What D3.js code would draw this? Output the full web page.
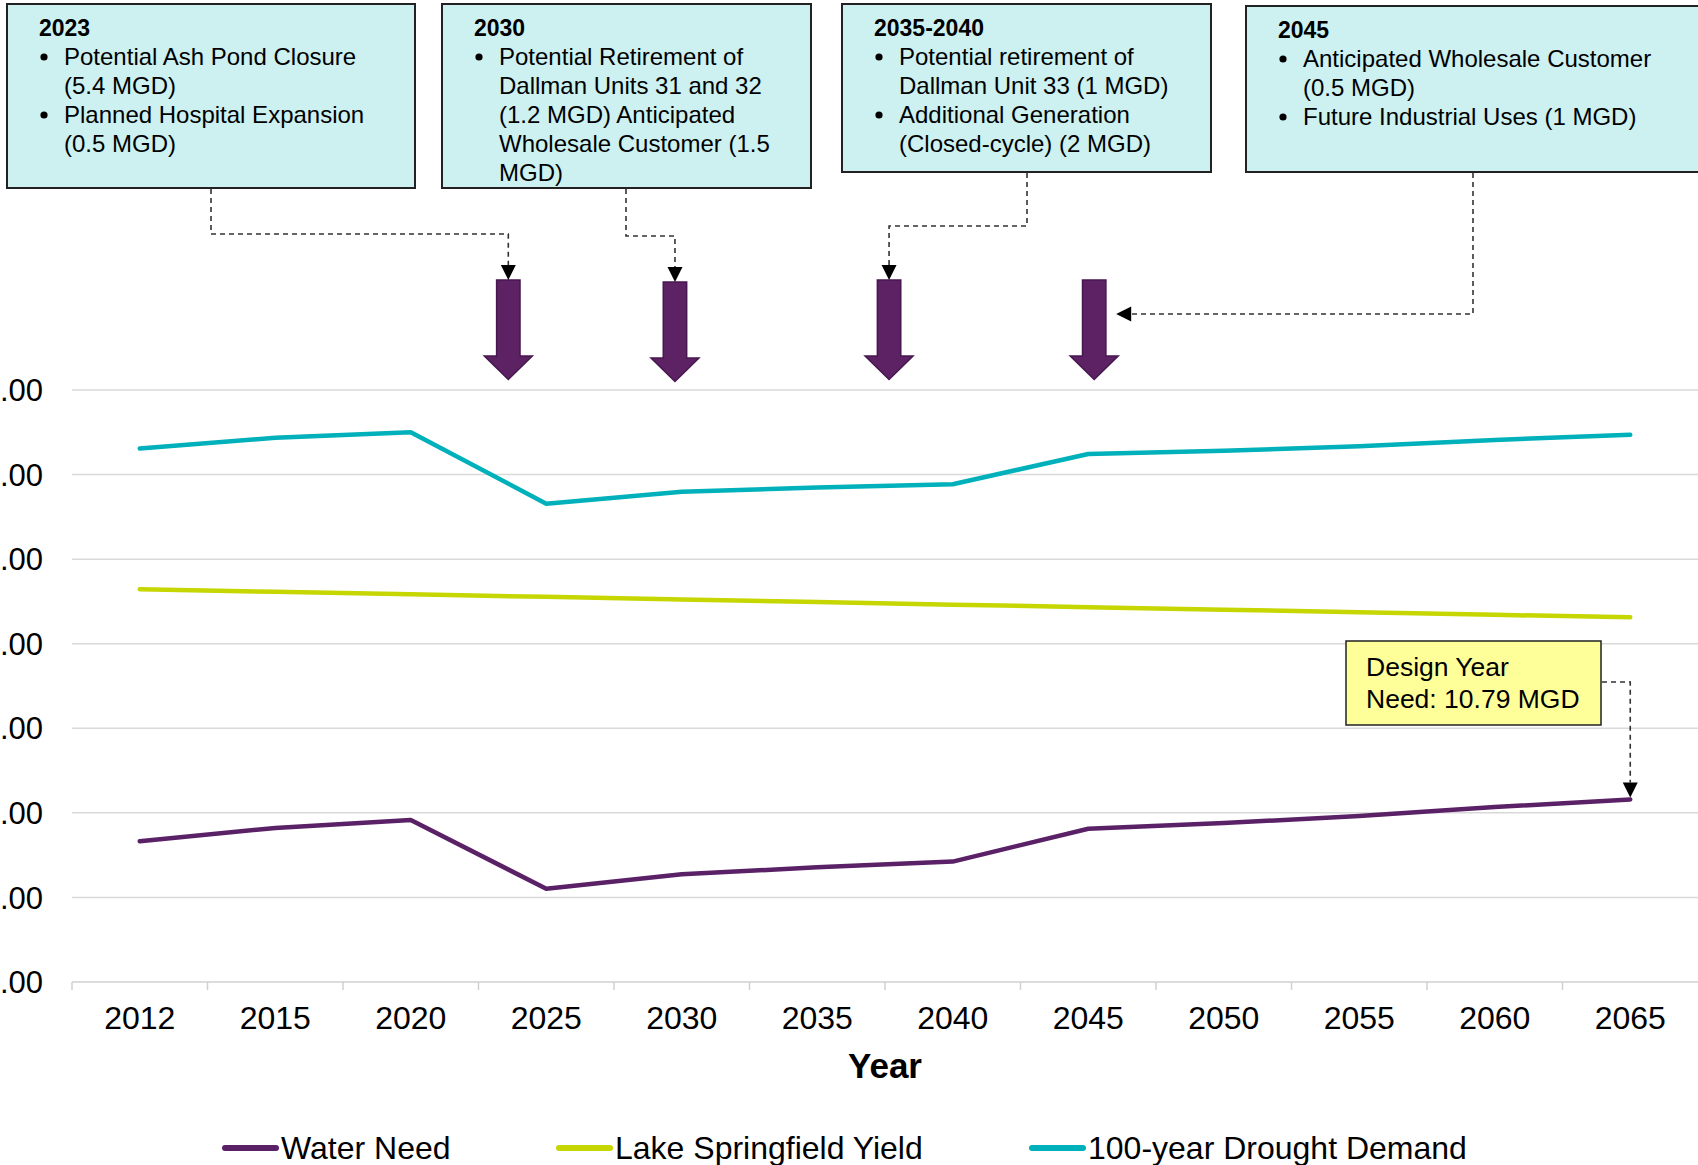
<!DOCTYPE html>
<html>
<head>
<meta charset="utf-8">
<script src="https://cdn.jsdelivr.net/npm/d3@7"></script>
<style>
  html, body { margin: 0; padding: 0; background: #fff; overflow: hidden; }
  svg { display: block; font-family: "Liberation Sans", Arial, Helvetica, sans-serif; }
</style>
</head>
<body>
<svg id="chart" width="1698" height="1165"></svg>
<script>
// ---------- data ----------
const years = ['2012','2015','2020','2025','2030','2035','2040','2045','2050','2055','2060','2065'];
const waterNeed     = [8.32, 9.11, 9.58, 5.51, 6.37, 6.78, 7.12, 9.06, 9.40, 9.81, 10.34, 10.79];
const lakeYield     = [23.22, 23.07, 22.92, 22.77, 22.61, 22.46, 22.31, 22.16, 22.01, 21.86, 21.71, 21.56];
const droughtDemand = [31.54, 32.18, 32.50, 28.28, 28.98, 29.24, 29.43, 31.22, 31.41, 31.67, 32.05, 32.35];
const yTicks = [0, 5, 10, 15, 20, 25, 30, 35];
const seriesNames = ['Water Need', 'Lake Springfield Yield', '100-year Drought Demand'];

const eventYears = [2023.6, 2029.75, 2037.65, 2045.22];
const eventTitles = ['2023', '2030', '2035-2040', '2045'];
const eventItems = [
  [['Potential Ash Pond Closure', '(5.4 MGD)'], ['Planned Hospital Expansion', '(0.5 MGD)']],
  [['Potential Retirement of', 'Dallman Units 31 and 32', '(1.2 MGD) Anticipated', 'Wholesale Customer (1.5', 'MGD)']],
  [['Potential retirement of', 'Dallman Unit 33 (1 MGD)'], ['Additional Generation', '(Closed-cycle) (2 MGD)']],
  [['Anticipated Wholesale Customer', '(0.5 MGD)'], ['Future Industrial Uses (1 MGD)']]
];
const designLabel = ['Design Year', 'Need: 10.79 MGD'];

// ---------- styles ----------
const colors = ['#5b2167', '#c5d600', '#00b0ba'];
const boxFill = '#cdf0f1';

const svg = d3.select('#chart');
const plot = { left: 72, right: 1698, top: 390, bottom: 982 };

const x = d3.scaleBand().domain(years).range([plot.left, plot.right]).paddingInner(0).paddingOuter(0);
const y = d3.scaleLinear().domain([0, 35]).range([plot.bottom, plot.top]);
const cx = d => x(d) + x.bandwidth() / 2;

// fractional year -> x (between category centres)
const yearNums = years.map(Number);
function yearX(v) {
  for (let i = 0; i < yearNums.length - 1; i++) {
    if (v >= yearNums[i] && v <= yearNums[i + 1]) {
      const t = (v - yearNums[i]) / (yearNums[i + 1] - yearNums[i]);
      return cx(years[i]) + t * (cx(years[i + 1]) - cx(years[i]));
    }
  }
  return cx(years[years.length - 1]);
}

// ---------- gridlines ----------
svg.append('g').selectAll('line').data(yTicks.filter(d => d > 0)).join('line')
  .attr('x1', plot.left).attr('x2', plot.right)
  .attr('y1', d => y(d)).attr('y2', d => y(d))
  .attr('stroke', '#d9d9d9').attr('stroke-width', 1.5);

// y labels (clipped at the left edge as in the reference)
svg.append('g').selectAll('text').data(yTicks).join('text')
  .attr('x', 43).attr('y', d => y(d)).attr('dy', '0.36em')
  .attr('text-anchor', 'end').attr('font-size', 31).attr('fill', '#000')
  .text(d => d.toFixed(2));

// x axis
const xAxis = svg.append('g');
xAxis.append('line').attr('x1', plot.left).attr('x2', plot.right)
  .attr('y1', plot.bottom).attr('y2', plot.bottom)
  .attr('stroke', '#d0d0d0').attr('stroke-width', 1.5);
xAxis.selectAll('line.tick').data(years).join('line').attr('class', 'tick')
  .attr('x1', d => x(d)).attr('x2', d => x(d))
  .attr('y1', plot.bottom).attr('y2', plot.bottom + 8)
  .attr('stroke', '#d0d0d0').attr('stroke-width', 1.5);
xAxis.selectAll('text').data(years).join('text')
  .attr('x', d => cx(d)).attr('y', 1029)
  .attr('text-anchor', 'middle').attr('font-size', 32).attr('fill', '#000')
  .text(d => d);
svg.append('text').attr('x', (plot.left + plot.right) / 2).attr('y', 1078)
  .attr('text-anchor', 'middle').attr('font-size', 35).attr('font-weight', 'bold')
  .text('Year');

// ---------- lines ----------
const series = [waterNeed, lakeYield, droughtDemand];
const line = d3.line().x((d, i) => cx(years[i])).y(d => y(d));
svg.append('g').selectAll('path').data(series).join('path')
  .attr('d', d => line(d))
  .attr('fill', 'none')
  .attr('stroke', (d, i) => colors[i])
  .attr('stroke-width', 4.5)
  .attr('stroke-linecap', 'round')
  .attr('stroke-linejoin', 'round');

// ---------- legend ----------
const legendX = [223, 557, 1030];
const lg = svg.append('g').selectAll('g').data(seriesNames).join('g')
  .attr('transform', (d, i) => `translate(${legendX[i]},1148)`);
lg.append('line').attr('x1', 2).attr('x2', 53).attr('y1', 0).attr('y2', 0)
  .attr('stroke', (d, i) => colors[i]).attr('stroke-width', 6).attr('stroke-linecap', 'round');
lg.append('text').attr('x', 58).attr('y', 11).attr('font-size', 32).text(d => d);

// ---------- annotation boxes ----------
const boxGeom = [[7, 4, 415, 188], [442, 4, 811, 188], [842, 4, 1211, 172], [1246, 6, 1712, 172]];
const ann = svg.append('g');
boxGeom.forEach((b, k) => {
  const g = ann.append('g');
  g.append('rect').attr('x', b[0]).attr('y', b[1]).attr('width', b[2] - b[0]).attr('height', b[3] - b[1])
    .attr('fill', boxFill).attr('stroke', '#222').attr('stroke-width', 2);
  g.append('text').attr('x', b[0] + 32).attr('y', b[1] + 32)
    .attr('font-size', 23).attr('font-weight', 'bold').text(eventTitles[k]);
  let ln = 0;
  eventItems[k].forEach(item => {
    const by = b[1] + 61 + ln * 29;
    g.append('circle').attr('cx', b[0] + 37).attr('cy', by - 8).attr('r', 3.6).attr('fill', '#000');
    item.forEach(t => {
      g.append('text').attr('x', b[0] + 57).attr('y', b[1] + 61 + ln * 29)
        .attr('font-size', 24).text(t);
      ln++;
    });
  });
});

// ---------- purple block arrows ----------
const arrowTop = [280, 282, 280, 280];
eventYears.forEach((ev, k) => {
  const ax = yearX(ev), t = arrowTop[k];
  const sw = 11.7, hw = 24, hs = 356 + (t - 280), tip = 379.5 + (t - 280);
  const pts = [[ax - sw, t], [ax + sw, t], [ax + sw, hs], [ax + hw, hs], [ax, tip], [ax - hw, hs], [ax - sw, hs]];
  ann.append('path').attr('d', 'M' + pts.map(p => p.join(',')).join('L') + 'Z')
    .attr('fill', '#5c2264').attr('stroke', '#47174f').attr('stroke-width', 1.5);
});

// ---------- dashed connectors ----------
function tri(tx, ty, dir) {
  const s = 7.5, l = 15;
  let p;
  if (dir === 'down') p = [[tx, ty], [tx - s, ty - l], [tx + s, ty - l]];
  else p = [[tx, ty], [tx + l, ty - s], [tx + l, ty + s]];
  ann.append('path').attr('d', 'M' + p.map(q => q.join(',')).join('L') + 'Z').attr('fill', '#000');
}
function dash(d) {
  ann.append('path').attr('d', d).attr('fill', 'none').attr('stroke', '#333')
    .attr('stroke-width', 1.6).attr('stroke-dasharray', '5,4');
}
const a = eventYears.map(yearX);
dash(`M211,189V234H${a[0]}V266`); tri(a[0], 280, 'down');
dash(`M626,189V236H${a[1]}V268`); tri(a[1], 282, 'down');
dash(`M1027,173V226H${a[2]}V266`); tri(a[2], 280, 'down');
dash(`M1473,173V314H1131`); tri(a[3] + 22, 314, 'left');

// ---------- design year label ----------
const dx = cx(years[years.length - 1]);
const dy = y(waterNeed[waterNeed.length - 1]);
ann.append('rect').attr('x', 1346).attr('y', 641).attr('width', 255).attr('height', 84)
  .attr('fill', '#ffff99').attr('stroke', '#222').attr('stroke-width', 1.5);
designLabel.forEach((t, i) => {
  ann.append('text').attr('x', 1366).attr('y', 676 + i * 32).attr('font-size', 26.5).text(t);
});
dash(`M1602,682H${dx}V${dy - 17}`);
tri(dx, dy - 2, 'down');
</script>
</body>
</html>
